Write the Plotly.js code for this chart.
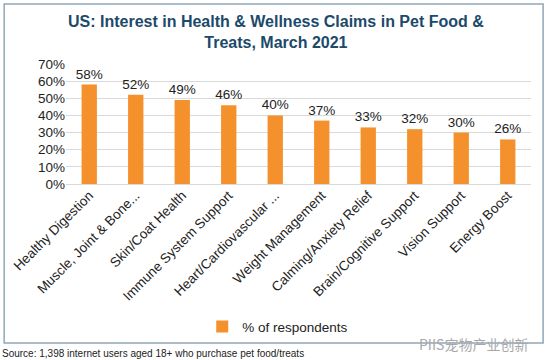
<!DOCTYPE html>
<html><head><meta charset="utf-8">
<script src="https://cdn.plot.ly/plotly-3.0.1.min.js"></script>
<style>body{margin:0;background:#fff}#c{width:550px;height:360px}</style>
</head><body><div id="c"></div>
<script>
const categories = ["Healthy Digestion","Muscle, Joint & Bone...","Skin/Coat Health","Immune System Support","Heart/Cardiovascular ...","Weight Management","Calming/Anxiety Relief","Brain/Cognitive Support","Vision Support","Energy Boost"];
const values = [58,52,49,46,40,37,33,32,30,26];
const yTicks = [0,10,20,30,40,50,60,70];
const yTickLabels = yTicks.map(v => v + "%");
const seriesName = "% of respondents";

const trace = {
  type: "bar", x: categories, y: values, name: seriesName,
  marker: {color: "#F5912C"},
  text: values.map(v => v + "%"), textposition: "outside", cliponaxis: false,
  constraintext: "none",
  textfont: {family: "Liberation Sans, Arial", size: 13.5, color: "#222"},
  hoverinfo: "skip"
};
const layout = {
  width: 550, height: 360,
  margin: {l: 66, r: 19, t: 64, b: 176},
  paper_bgcolor: "#fff", plot_bgcolor: "#fff",
  bargap: 0.67,
  showlegend: true,
  legend: {orientation: "h", x: 0.293, y: -1.19, xanchor: "left", yanchor: "middle",
    font: {family: "Liberation Sans, Arial", size: 13.5, color: "#222"}},
  xaxis: {tickangle: -45, tickfont: {family: "Liberation Sans, Arial", size: 13.5, color: "#222"},
    showline: false, ticks: "", showgrid: false, fixedrange: true},
  yaxis: {range: [0, 70], tickvals: yTicks, ticktext: yTickLabels,
    tickfont: {family: "Liberation Sans, Arial", size: 13.5, color: "#222"},
    gridcolor: "#D9D9D9", zeroline: true, zerolinecolor: "#D9D9D9", showline: false, ticks: "", fixedrange: true},
  shapes: [{type: "rect", xref: "paper", yref: "paper", x0: -0.133, x1: 1.026, y0: -1.325, y1: 1.5,
    line: {color: "#8FA8B8", width: 1.5}, fillcolor: "rgba(0,0,0,0)", layer: "below"}],
  annotations: [
    {text: "<b>US: Interest in Health & Wellness Claims in Pet Food &<br>Treats, March 2021</b>",
     xref: "paper", yref: "paper", x: 0.452, y: 1.265, xanchor: "center", yanchor: "middle", showarrow: false,
     font: {family: "Liberation Sans, Arial", size: 16, color: "#1B4A6B"}},
    {text: "Source: 1,398 internet users aged 18+ who purchase pet food/treats", xref: "paper", yref: "paper",
     x: -0.142, y: -1.41, xanchor: "left", yanchor: "middle", showarrow: false,
     font: {family: "Liberation Sans, Arial", size: 10, color: "#222"}},
    {text: "PIIS宠物产业创新", xref: "paper", yref: "paper", x: 0.998, y: -1.33, xanchor: "right", yanchor: "middle",
     showarrow: false, font: {family: "Noto Sans CJK SC", size: 14, color: "#A8A8A8"}}
  ]
};
Plotly.newPlot("c", [trace], layout, {displayModeBar: false, staticPlot: true});
</script></body></html>
